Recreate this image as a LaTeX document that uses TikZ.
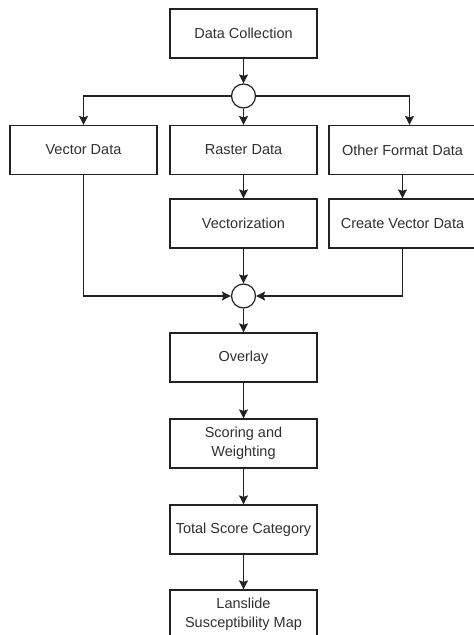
\documentclass[tikz,border=0pt]{standalone}
\usepackage{fontspec}
\setmainfont{Liberation Sans}
\usetikzlibrary{arrows.meta}
\definecolor{txtgray}{HTML}{303030}
\definecolor{linegray}{HTML}{222222}

\tikzset{
    stepbox/.style={draw=linegray, line width=1.2pt, minimum width=147pt, minimum height=49pt,
        align=center, inner sep=2pt, text=txtgray, font=\fontsize{14.5}{19}\selectfont},
    joint/.style={draw=linegray, line width=1.2pt, circle, minimum size=24pt, inner sep=0pt},
    flow/.style={draw=linegray, line width=1.2pt, -{Stealth[length=9pt,width=9pt,inset=1.5pt]}}
}

\begin{document}
\begin{tikzpicture}[x=1pt, y=-1pt]
    \useasboundingbox (0,0) rectangle (474,635);

    % Define nodes
    \node[stepbox] (DC) at (243.5,33.5) {Data Collection};
    \node[joint] (J1) at (243.5,96) {};

    \node[stepbox] (VD) at (83.5,150) {Vector Data};
    \node[stepbox] (RD) at (243.5,150) {Raster Data};
    \node[stepbox] (OD) at (402.5,150) {Other Format Data};

    \node[stepbox] (VZ) at (243.5,223.5) {Vectorization};
    \node[stepbox] (CV) at (402.5,223.5) {Create Vector Data};

    \node[joint] (J2) at (243.5,296) {};

    \node[stepbox] (OV) at (243.5,357.5) {Overlay};
    \node[stepbox] (SW) at (243.5,443.5) {Scoring and\\Weighting};
    \node[stepbox] (TS) at (243.5,529.5) {Total Score Category};
    \node[stepbox] (LS) at (243.5,614.5) {Lanslide\\Susceptibility Map};

    \coordinate (ODin) at ([xshift=7pt]OD.north);

    % Draw arrows
    \draw[flow] (DC) -- (J1);
    \draw[flow] (J1.west) -| (VD.north);
    \draw[flow] (J1) -- (RD);
    \draw[flow] (J1.east) -| (ODin);

    \draw[flow] (RD) -- (VZ);
    \draw[flow] (OD) -- (CV);

    \draw[flow] (VD.south) |- (J2.west);
    \draw[flow] (VZ) -- (J2);
    \draw[flow] (CV.south) |- (J2.east);

    \draw[flow] (J2) -- (OV);
    \draw[flow] (OV) -- (SW);
    \draw[flow] (SW) -- (TS);
    \draw[flow] (TS) -- (LS);
\end{tikzpicture}
\end{document}
